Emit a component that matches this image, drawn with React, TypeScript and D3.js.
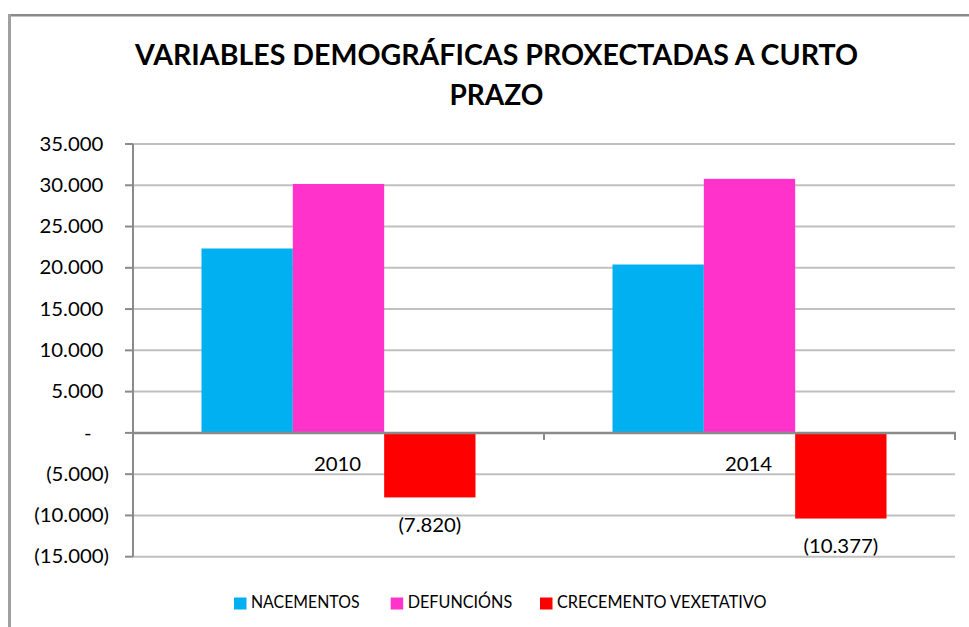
import React, { useEffect, useRef } from "react";
import * as d3 from "d3";

const categories = ["2010", "2014"];
const seriesNames = ["NACEMENTOS", "DEFUNCIÓNS", "CRECEMENTO VEXETATIVO"];
const nacementos = [22340, 20400];
const defuncions = [30160, 30777];
const crecemento = [-7820, -10377];
const yTicks = [35000, 30000, 25000, 20000, 15000, 10000, 5000, 0, -5000, -10000, -15000];
const titleLines = ["VARIABLES DEMOGRÁFICAS PROXECTADAS A CURTO", "PRAZO"];
const colors = ["#00B0F0", "#FF33CC", "#FF0000"];

const W = 969;
const H = 627;

export default function App() {
  const ref = useRef<SVGSVGElement | null>(null);

  useEffect(() => {
    const svg = d3.select(ref.current);
    svg.selectAll("*").remove();

    const FONT = "Lato, 'Open Sans', sans-serif";
    const plotL = 133, plotR = 955, plotT = 144, plotB = 556.7;

    const locale = d3.formatLocale({ thousands: ".", decimal: ",", grouping: [3], currency: ["", ""] });
    const f = locale.format(",d");
    const fmt = (v: number) => (v === 0 ? "-" : v < 0 ? `(${f(-v)})` : f(v));

    const y = d3.scaleLinear().domain([-15000, 35000]).range([plotB, plotT]);
    const x0 = d3.scaleBand<string>().domain(categories).range([plotL, plotR]).paddingInner(0).paddingOuter(0);
    const x1 = d3.scaleBand<string>().domain(seriesNames).range([0, x0.bandwidth()]).paddingInner(0).paddingOuter(0.75);

    // chart border
    svg.append("line").attr("x1", 8).attr("x2", W).attr("y1", 15.3).attr("y2", 15.3)
      .attr("stroke", "#8a8a8a").attr("stroke-width", 2.6);
    svg.append("line").attr("x1", 9.5).attr("x2", 9.5).attr("y1", 14).attr("y2", H)
      .attr("stroke", "#a0a0a0").attr("stroke-width", 3);

    // title
    const tw = [723, 94];
    const tb = [65, 105];
    titleLines.forEach((t, i) => {
      svg.append("text").attr("x", 496.5).attr("y", tb[i]).attr("text-anchor", "middle")
        .attr("font-family", FONT).attr("font-weight", 700).attr("font-size", 28)
        .attr("textLength", tw[i]).attr("lengthAdjust", "spacingAndGlyphs")
        .attr("fill", "#000").text(t);
    });

    // gridlines
    svg.append("g").selectAll("line").data(yTicks.filter((d) => d !== 0)).join("line")
      .attr("x1", plotL).attr("x2", plotR).attr("y1", (d) => y(d)).attr("y2", (d) => y(d))
      .attr("stroke", "#c0c0c0").attr("stroke-width", 2);

    // y tick marks + labels
    const yt = svg.append("g");
    yt.selectAll("line").data(yTicks).join("line")
      .attr("x1", 125).attr("x2", plotL).attr("y1", (d) => y(d)).attr("y2", (d) => y(d))
      .attr("stroke", "#8a8a8a").attr("stroke-width", 2);
    yt.selectAll("text").data(yTicks).join("text")
      .attr("transform", (d) => {
        const pad = d > 0 ? 5.7 : d === 0 ? 17.5 : 0;
        return `translate(${109 - pad},${y(d)}) scale(1.1,1)`;
      })
      .attr("text-anchor", "end").attr("dy", "0.36em")
      .attr("font-family", FONT).attr("font-size", 18.5).attr("fill", "#000")
      .text((d) => fmt(d));

    // bars
    const seriesData = [nacementos, defuncions, crecemento];
    seriesData.forEach((vals, si) => {
      svg.append("g").selectAll("rect").data(vals).join("rect")
        .attr("x", (_, i) => (x0(categories[i]) as number) + (x1(seriesNames[si]) as number))
        .attr("width", x1.bandwidth())
        .attr("y", (d) => y(Math.max(0, d)))
        .attr("height", (d) => Math.abs(y(d) - y(0)))
        .attr("fill", colors[si]);
    });

    // y axis line
    svg.append("line").attr("x1", plotL).attr("x2", plotL).attr("y1", plotT).attr("y2", plotB)
      .attr("stroke", "#8a8a8a").attr("stroke-width", 2);
    // category axis at zero
    svg.append("line").attr("x1", plotL).attr("x2", plotR + 1).attr("y1", y(0)).attr("y2", y(0))
      .attr("stroke", "#8a8a8a").attr("stroke-width", 2.5);
    const catTicks = [plotL, ...categories.map((c) => (x0(c) as number) + x0.bandwidth())];
    svg.append("g").selectAll("line").data(catTicks).join("line")
      .attr("x1", (d) => d).attr("x2", (d) => d).attr("y1", y(0)).attr("y2", y(0) + 7)
      .attr("stroke", "#8a8a8a").attr("stroke-width", 2);

    // category labels
    svg.append("g").selectAll("text").data(categories).join("text")
      .attr("transform", (c) => `translate(${(x0(c) as number) + x0.bandwidth() / 2 - 1},${y(0) + 31.5}) scale(1.1,1)`)
      .attr("text-anchor", "middle").attr("dy", "0.36em")
      .attr("font-family", FONT).attr("font-size", 18.5).attr("fill", "#000")
      .text((c) => c);

    // data labels for crecemento
    svg.append("g").selectAll("text").data(crecemento).join("text")
      .attr("transform", (d, i) => {
        const cx = (x0(categories[i]) as number) + (x1(seriesNames[2]) as number) + x1.bandwidth() / 2;
        return `translate(${cx},${y(d) + 28}) scale(1.1,1)`;
      })
      .attr("text-anchor", "middle").attr("dy", "0.36em")
      .attr("font-family", FONT).attr("font-size", 18.5).attr("fill", "#000")
      .text((d) => fmt(d));

    // legend
    const legX = [234, 390.7, 540];
    const legW = [108.5, 104.5, 209.5];
    const lg = svg.append("g");
    seriesNames.forEach((s, i) => {
      lg.append("rect").attr("x", legX[i]).attr("y", 597.5).attr("width", 12.5).attr("height", 12)
        .attr("fill", colors[i]);
      lg.append("text").attr("x", legX[i] + 17).attr("y", 607.7)
        .attr("font-family", FONT).attr("font-size", 17.5).attr("fill", "#000")
        .attr("textLength", legW[i]).attr("lengthAdjust", "spacingAndGlyphs")
        .text(s);
    });
  }, []);

  return (
    <svg ref={ref} width={W} height={H}
      style={{ position: "absolute", left: 0, top: 0, background: "#fff", display: "block" }} />
  );
}
